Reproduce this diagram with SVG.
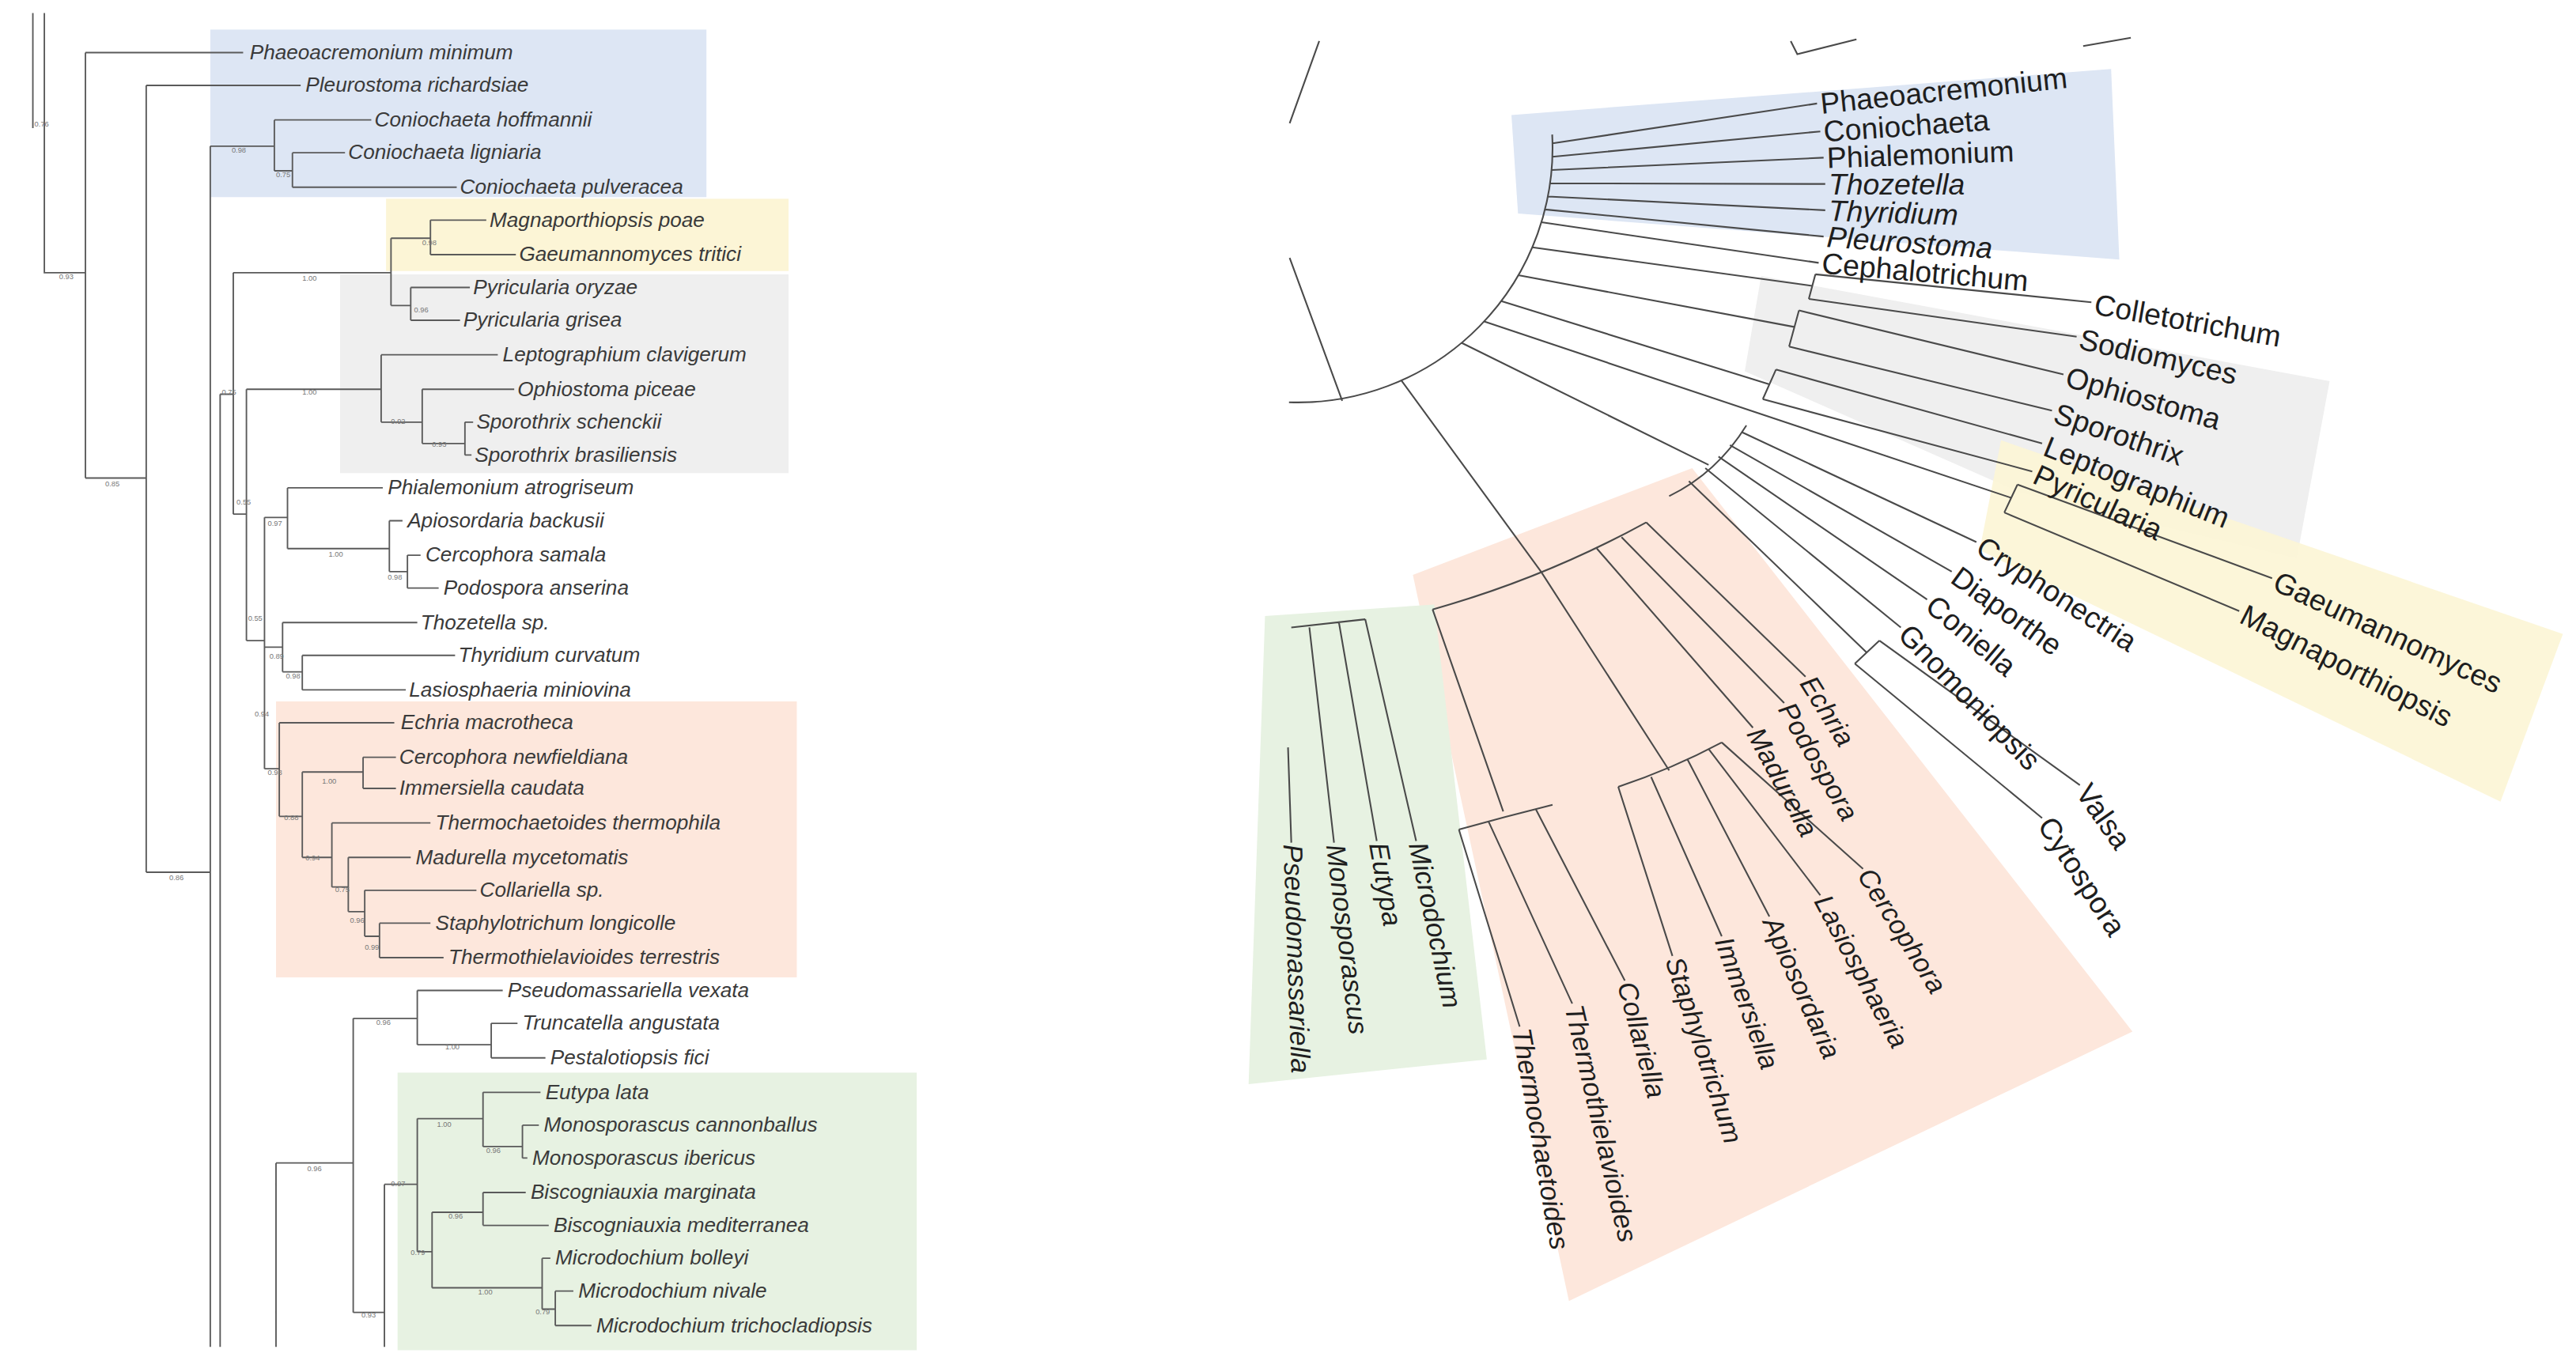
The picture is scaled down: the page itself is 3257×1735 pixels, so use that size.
<svg xmlns="http://www.w3.org/2000/svg" width="3257" height="1735" viewBox="0 0 3257 1735">
<style>
.l{fill:none;stroke:#5a5a5a;stroke-width:0.9}
.r{fill:none;stroke:#4a4a4a;stroke-width:1}
.t{font-family:"Liberation Sans",Arial,sans-serif;font-style:italic;font-size:12.6px;fill:#3a3a3a}
.s{font-family:"Liberation Sans",Arial,sans-serif;font-size:4.5px;fill:#777}
.R{font-family:"Liberation Sans",Arial,sans-serif;font-size:18px;fill:#1e1e1e}
.Q{font-family:"Liberation Sans",Arial,sans-serif;font-size:16.5px;font-style:italic;fill:#1e1e1e}
</style>
<rect width="3257" height="1735" fill="#fff"/>
<g transform="scale(2.0772)">
<g id="bg-left">
<rect x="128" y="18" width="302" height="102" fill="#dde6f4"/>
<rect x="235" y="121" width="245" height="44" fill="#fcf5d6"/>
<rect x="207" y="167" width="273" height="121" fill="#efefef"/>
<rect x="168" y="427" width="317" height="168" fill="#fde7dc"/>
<rect x="242" y="653" width="316" height="169" fill="#e7f2e2"/>
</g>
<g id="bg-right">
<polygon points="920,70 1285,42 1290,158 924,130" fill="#dde6f4"/>
<polygon points="1072,168 1418,232 1398,340 1230,300 1062,226" fill="#efefef"/>
<polygon points="1218,268 1560,386 1522,488 1205,335" fill="#fcf5d6" fill-opacity="0.92"/>
<polygon points="860,350 1030,285 1298,628 955,792" fill="#fde7dc"/>
<polygon points="770,375 873,368 905,645 760,660" fill="#e7f2e2"/>
</g>
<g id="connectors">
<path class="l" d="M20 8V78M27 8V166H52M52 32V291M52 32H148M52 291H89M89 52V531M89 52H183M89 531H128M128 89V820M128 89H167
M167 73V104M167 73H226M167 104H178M178 93V114M178 93H210M178 114H278
M134 240V820M134 240H142M142 166V313M142 166H238M142 313H150
M238 145V186M238 145H262M262 134V155M262 134H296M262 155H314M238 186H250M250 175V195M250 175H286M250 195H280
M150 237V390M150 237H232M150 390H161
M232 216V257M232 216H303M232 257H257M257 237V270M257 237H313M257 270H283M283 257V277M283 257H288M283 277H287
M161 315V468M161 315H175M161 394H172M161 468H170
M175 297V334M175 297H233M175 334H237M237 317V348M237 317H245M237 348H248M248 338V358M248 338H256M248 358H267
M172 379V409M172 379H254M172 409H184M184 399V420M184 399H277M184 420H247
M170 440V497M170 440H240M170 497H184M184 470V522M184 470H221M221 461V480M221 461H241M221 480H241M184 522H202M202 501V540M202 501H262M202 540H212M212 522V555M212 522H250M212 555H222M222 542V570M222 542H290M222 570H231M231 562V583M231 562H262M231 583H270
M168 708V820M168 708H215M215 620V799M215 620H254M254 603V636M254 603H306M254 636H299M299 623V644M299 623H315M299 644H332M215 799H234M234 721V820M234 721H254M254 681V762M254 681H294M294 665V698M294 665H329M294 698H318M318 685V705M318 685H328M318 705H321M254 762H263M263 738V784M263 738H294M294 726V746M294 726H320M294 746H334M263 784H330M330 766V797M330 766H335M330 797H338M338 786V807M338 786H349M338 807H360"/>
<path class="r" d="M944.8 81.9A155 155 0 0 1 784.6 244.9M803 25L785 75M785 157L817 244M1090 25L1094 33L1130 24M1268 28L1297 23
M945 87.3L1106 63M944.9 95.4L1108 80M944.4 103.5L1110 96M943.5 111.6L1111 112M942.2 119.6L1111 128M940.4 127.5L1110 144M938.2 135.3L1107 160
M932.7 150.6L1103 174M1105 167L1101 182M1105 167L1273 184M1101 182L1264 205
M924.2 167.5L1092 199M1095 189L1089 211M1095 189L1256 228M1089 211L1249 250
M913.8 183.3L1077 234M1081 225L1073 243M1081 225L1243 270M1073 243L1237 287
M903.4 195.7L1224 303M1228 295L1220 312M1228 295L1383 352M1220 312L1363 372
M889.6 208.7L1040 283M1063 259Q1045 288 1016 302M1060 263L1203 330M1053 271L1188 348M1046 278L1173 365M1038 285L1157 382M1028 293L1136 397M1144 390L1129 404M1144 390L1266 478M1129 404L1243 498
M853 231.6L938 348M1002 318Q940 352 872 371M1002 318L1099 412M987 327L1086 428M972 334L1067 443
M938 348L1016 469M985 479Q1018 468 1048 452M985 479L1018 582M1005 473L1048 570M1027 462L1077 558M1040 456L1108 545M1048 452L1134 529
M872 371L915 494M888 505Q917 497 945 490M888 505L925 625M906 500L957 611M935 493L989 597
M786 382L831 377M831 377L862 512M815 379L838 512M797 382L812 513M784 455L786 513"/>
</g>
<g id="left-labels" class="t">
<text x="152" y="36">Phaeoacremonium minimum</text>
<text x="186" y="56">Pleurostoma richardsiae</text>
<text x="228" y="77">Coniochaeta hoffmannii</text>
<text x="212" y="97">Coniochaeta ligniaria</text>
<text x="280" y="118">Coniochaeta pulveracea</text>
<text x="298" y="138">Magnaporthiopsis poae</text>
<text x="316" y="159">Gaeumannomyces tritici</text>
<text x="288" y="179">Pyricularia oryzae</text>
<text x="282" y="199">Pyricularia grisea</text>
<text x="306" y="220">Leptographium clavigerum</text>
<text x="315" y="241">Ophiostoma piceae</text>
<text x="290" y="261">Sporothrix schenckii</text>
<text x="289" y="281">Sporothrix brasiliensis</text>
<text x="236" y="301">Phialemonium atrogriseum</text>
<text x="248" y="321">Apiosordaria backusii</text>
<text x="259" y="342">Cercophora samala</text>
<text x="270" y="362">Podospora anserina</text>
<text x="256" y="383">Thozetella sp.</text>
<text x="279" y="403">Thyridium curvatum</text>
<text x="249" y="424">Lasiosphaeria miniovina</text>
<text x="244" y="444">Echria macrotheca</text>
<text x="243" y="465">Cercophora newfieldiana</text>
<text x="243" y="484">Immersiella caudata</text>
<text x="265" y="505">Thermochaetoides thermophila</text>
<text x="253" y="526">Madurella mycetomatis</text>
<text x="292" y="546">Collariella sp.</text>
<text x="265" y="566">Staphylotrichum longicolle</text>
<text x="273" y="587">Thermothielavioides terrestris</text>
<text x="309" y="607">Pseudomassariella vexata</text>
<text x="318" y="627">Truncatella angustata</text>
<text x="335" y="648">Pestalotiopsis fici</text>
<text x="332" y="669">Eutypa lata</text>
<text x="331" y="689">Monosporascus cannonballus</text>
<text x="324" y="709">Monosporascus ibericus</text>
<text x="323" y="730">Biscogniauxia marginata</text>
<text x="337" y="750">Biscogniauxia mediterranea</text>
<text x="338" y="770">Microdochium bolleyi</text>
<text x="352" y="790">Microdochium nivale</text>
<text x="363" y="811">Microdochium trichocladiopsis</text>
</g>
<g id="support" class="s">
<text x="21" y="77">0.76</text><text x="36" y="170">0.93</text><text x="64" y="296">0.85</text><text x="103" y="536">0.86</text>
<text x="141" y="93">0.98</text><text x="168" y="108">0.75</text><text x="257" y="149">0.98</text><text x="184" y="171">1.00</text>
<text x="252" y="190">0.96</text><text x="135" y="240">0.75</text><text x="184" y="240">1.00</text><text x="238" y="258">0.92</text>
<text x="263" y="272">0.93</text><text x="144" y="307">0.55</text><text x="163" y="320">0.97</text><text x="200" y="339">1.00</text>
<text x="236" y="353">0.98</text><text x="151" y="378">0.55</text><text x="164" y="401">0.89</text><text x="174" y="413">0.98</text>
<text x="155" y="436">0.94</text><text x="163" y="472">0.98</text><text x="196" y="477">1.00</text><text x="173" y="499">0.88</text>
<text x="186" y="524">0.94</text><text x="204" y="543">0.75</text><text x="213" y="562">0.96</text><text x="222" y="578">0.99</text>
<text x="229" y="624">0.96</text><text x="271" y="639">1.00</text><text x="187" y="713">0.96</text><text x="266" y="686">1.00</text>
<text x="296" y="702">0.96</text><text x="238" y="722">0.97</text><text x="273" y="742">0.96</text><text x="250" y="764">0.79</text>
<text x="291" y="788">1.00</text><text x="220" y="802">0.93</text><text x="326" y="800">0.79</text>
</g>
<g id="right-labels">
<g class="R">
<text transform="translate(1108,63) rotate(-6)" dy="0.35em">Phaeoacremonium</text>
<text transform="translate(1110,80) rotate(-4)" dy="0.35em">Coniochaeta</text>
<text transform="translate(1112,96) rotate(-2)" dy="0.35em">Phialemonium</text>
<text class="Q" style="font-size:18px" transform="translate(1113,112) rotate(0)" dy="0.35em">Thozetella</text>
<text class="Q" style="font-size:18px" transform="translate(1113,128) rotate(2)" dy="0.35em">Thyridium</text>
<text class="Q" style="font-size:18px" transform="translate(1112,144) rotate(4)" dy="0.35em">Pleurostoma</text>
<text transform="translate(1109,160) rotate(5)" dy="0.35em">Cephalotrichum</text>
<text transform="translate(1275,185) rotate(10)" dy="0.35em">Colletotrichum</text>
<text transform="translate(1266,206) rotate(13)" dy="0.35em">Sodiomyces</text>
<text transform="translate(1258,229) rotate(16)" dy="0.35em">Ophiostoma</text>
<text transform="translate(1251,251) rotate(19)" dy="0.35em">Sporothrix</text>
<text transform="translate(1245,271) rotate(22)" dy="0.35em">Leptographium</text>
<text transform="translate(1239,288) rotate(25)" dy="0.35em">Pyricularia</text>
<text transform="translate(1385,353) rotate(25)" dy="0.35em">Gaeumannomyces</text>
<text transform="translate(1365,373) rotate(27)" dy="0.35em">Magnaporthiopsis</text>
<text transform="translate(1205,331) rotate(33)" dy="0.35em">Cryphonectria</text>
<text transform="translate(1190,349) rotate(36)" dy="0.35em">Diaporthe</text>
<text transform="translate(1175,366) rotate(40)" dy="0.35em">Coniella</text>
<text transform="translate(1159,383) rotate(46)" dy="0.35em">Gnomoniopsis</text>
<text transform="translate(1268,479) rotate(55)" dy="0.35em">Valsa</text>
<text transform="translate(1245,499) rotate(57)" dy="0.35em">Cytospora</text>
</g>
<g class="Q">
<text transform="translate(1100,413) rotate(58)" dy="0.35em">Echria</text>
<text transform="translate(1087,429) rotate(60)" dy="0.35em">Podospora</text>
<text transform="translate(1068,444) rotate(62)" dy="0.35em">Madurella</text>
<text transform="translate(1135,530) rotate(58)" dy="0.35em">Cercophora</text>
<text transform="translate(1109,546) rotate(62)" dy="0.35em">Lasiosphaeria</text>
<text transform="translate(1078,559) rotate(66)" dy="0.35em">Apiosordaria</text>
<text transform="translate(1049,571) rotate(70)" dy="0.35em">Immersiella</text>
<text transform="translate(1019,583) rotate(72)" dy="0.35em">Staphylotrichum</text>
<text transform="translate(990,598) rotate(75)" dy="0.35em">Collariella</text>
<text transform="translate(958,612) rotate(77)" dy="0.35em">Thermothielavioides</text>
<text transform="translate(926,626) rotate(80)" dy="0.35em">Thermochaetoides</text>
<text transform="translate(863,513) rotate(78)" dy="0.35em">Microdochium</text>
<text transform="translate(839,513) rotate(80)" dy="0.35em">Eutypa</text>
<text transform="translate(813,514) rotate(83)" dy="0.35em">Monosporascus</text>
<text transform="translate(787,514) rotate(88)" dy="0.35em">Pseudomassariella</text>
</g>
</g>
</g>
</svg>
